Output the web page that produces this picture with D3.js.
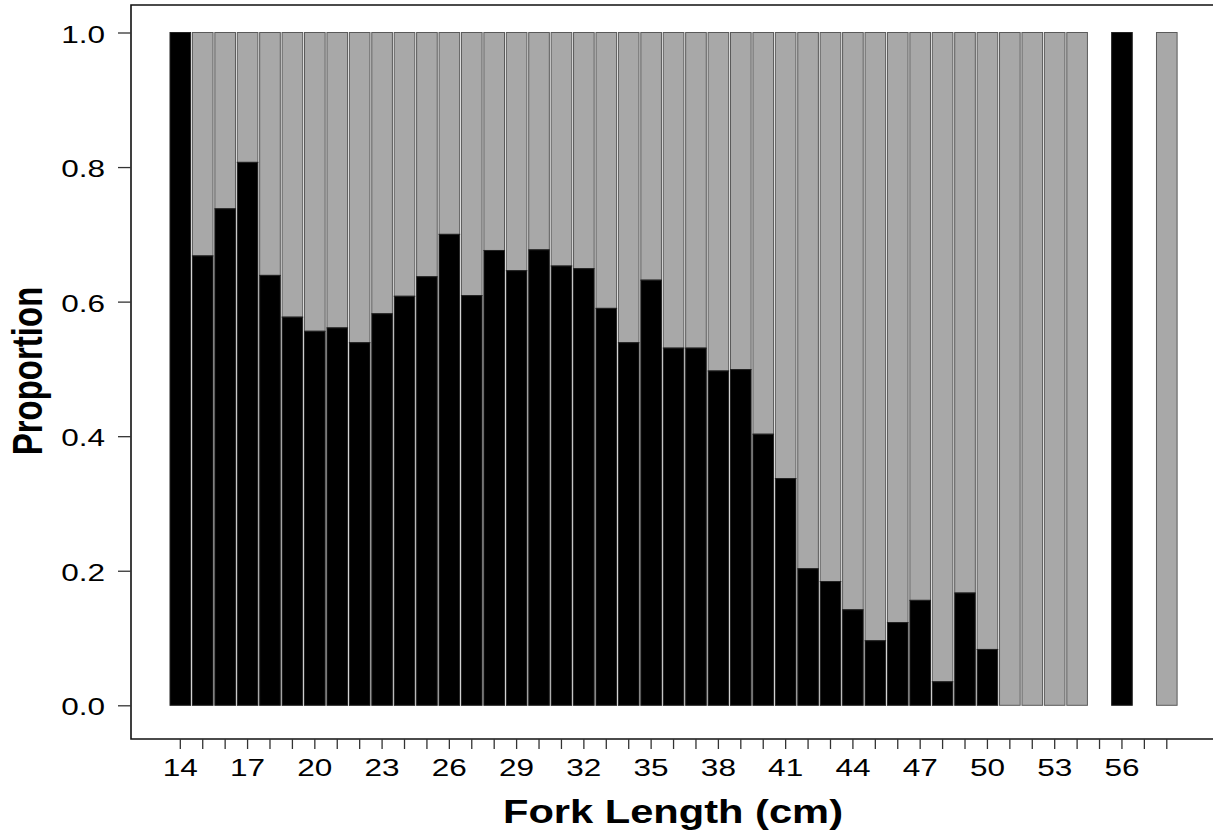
<!DOCTYPE html>
<html>
<head>
<meta charset="utf-8">
<script src="https://cdn.jsdelivr.net/npm/d3@7"></script>
<style>
  html, body { margin: 0; padding: 0; background: #fff; }
  svg { display: block; }
  text { font-family: "Liberation Sans", Arial, sans-serif; fill: #000; }
</style>
</head>
<body>
<svg id="chart" width="1213" height="837"></svg>
<script>
// Fork length classes (cm)
const lengths = [14,15,16,17,18,19,20,21,22,23,24,25,26,27,28,29,30,31,32,33,34,35,36,37,38,39,40,41,42,43,44,45,46,47,48,49,50,51,52,53,54,55,56,57,58];
// Proportion in the black category (null = no fish in that class)
const propBlack = [1.0,0.668,0.738,0.807,0.639,0.577,0.556,0.561,0.539,0.582,0.608,0.637,0.700,0.609,0.676,0.646,0.677,0.653,0.649,0.590,0.539,0.632,0.531,0.531,0.497,0.499,0.403,0.337,0.203,0.184,0.142,0.096,0.123,0.156,0.035,0.167,0.083,0,0,0,0,null,1.0,null,0];
const tickLabels = [14,17,20,23,26,29,32,35,38,41,44,47,50,53,56];
const yTicks = [0,0.2,0.4,0.6,0.8,1.0];

const TICK_STRETCH = 1.37;
const TITLE_STRETCH = 1.3;
const svg = d3.select("#chart");

const x = d3.scaleBand().domain(lengths).range([169.1, 1178]).paddingInner(0.08).paddingOuter(0.04);
const y = d3.scaleLinear().domain([0, 1]).range([705.3, 32.5]);

const rows = lengths.map((L, i) => ({L, v: propBlack[i]})).filter(d => d.v !== null);

// grey (remainder) segments
svg.append("g").selectAll("rect").data(rows.filter(d => d.v < 1)).join("rect")
  .attr("x", d => x(d.L)).attr("width", x.bandwidth())
  .attr("y", y(1)).attr("height", d => y(d.v) - y(1))
  .attr("fill", "#a8a8a8").attr("stroke", "#5a5a5a").attr("stroke-width", 1);

// black segments
svg.append("g").selectAll("rect").data(rows.filter(d => d.v > 0)).join("rect")
  .attr("x", d => x(d.L)).attr("width", x.bandwidth())
  .attr("y", d => y(d.v)).attr("height", d => y(0) - y(d.v))
  .attr("fill", "#000").attr("stroke", "#222").attr("stroke-width", 1);

// frame
const frameL = 131, frameT = 5, frameB = 739;
svg.append("path")
  .attr("d", `M1213,${frameT}H${frameL}V${frameB}H1213`)
  .attr("fill", "none").attr("stroke", "#111").attr("stroke-width", 1.6);

// y axis
const yAxis = svg.append("g").attr("transform", `translate(${frameL},0)`)
  .call(d3.axisLeft(y).tickValues(yTicks).tickFormat(d3.format(".1f")).tickSize(13).tickPadding(12));
yAxis.select(".domain").remove();
yAxis.selectAll("line").attr("stroke", "#333").attr("stroke-width", 1.3);
yAxis.selectAll("text")
  .attr("font-size", 23)
  .attr("x", -26 / TICK_STRETCH)
  .attr("dy", "0.42em")
  .attr("transform", `scale(${TICK_STRETCH},1)`);

// x axis
const xAxis = svg.append("g").attr("transform", `translate(0,${frameB})`)
  .call(d3.axisBottom(x).tickValues(lengths)
    .tickFormat(d => tickLabels.includes(d) ? String(d) : "")
    .tickSize(10).tickPadding(11));
xAxis.select(".domain").remove();
xAxis.selectAll("line").attr("stroke", "#333").attr("stroke-width", 1.3);
xAxis.selectAll("text")
  .attr("font-size", 23)
  .attr("transform", `scale(${TICK_STRETCH},1)`);

// titles
svg.append("text")
  .attr("transform", `translate(673,823) scale(${TITLE_STRETCH},1)`)
  .attr("text-anchor", "middle").attr("font-weight", "bold").attr("font-size", 32.5)
  .attr("textLength", 340 / TITLE_STRETCH).attr("lengthAdjust", "spacingAndGlyphs")
  .text("Fork Length (cm)");

svg.append("text")
  .attr("transform", `translate(42,371) scale(${TITLE_STRETCH},1) rotate(-90)`)
  .attr("text-anchor", "middle").attr("font-weight", "bold").attr("font-size", 33)
  .text("Proportion");
</script>
</body>
</html>
